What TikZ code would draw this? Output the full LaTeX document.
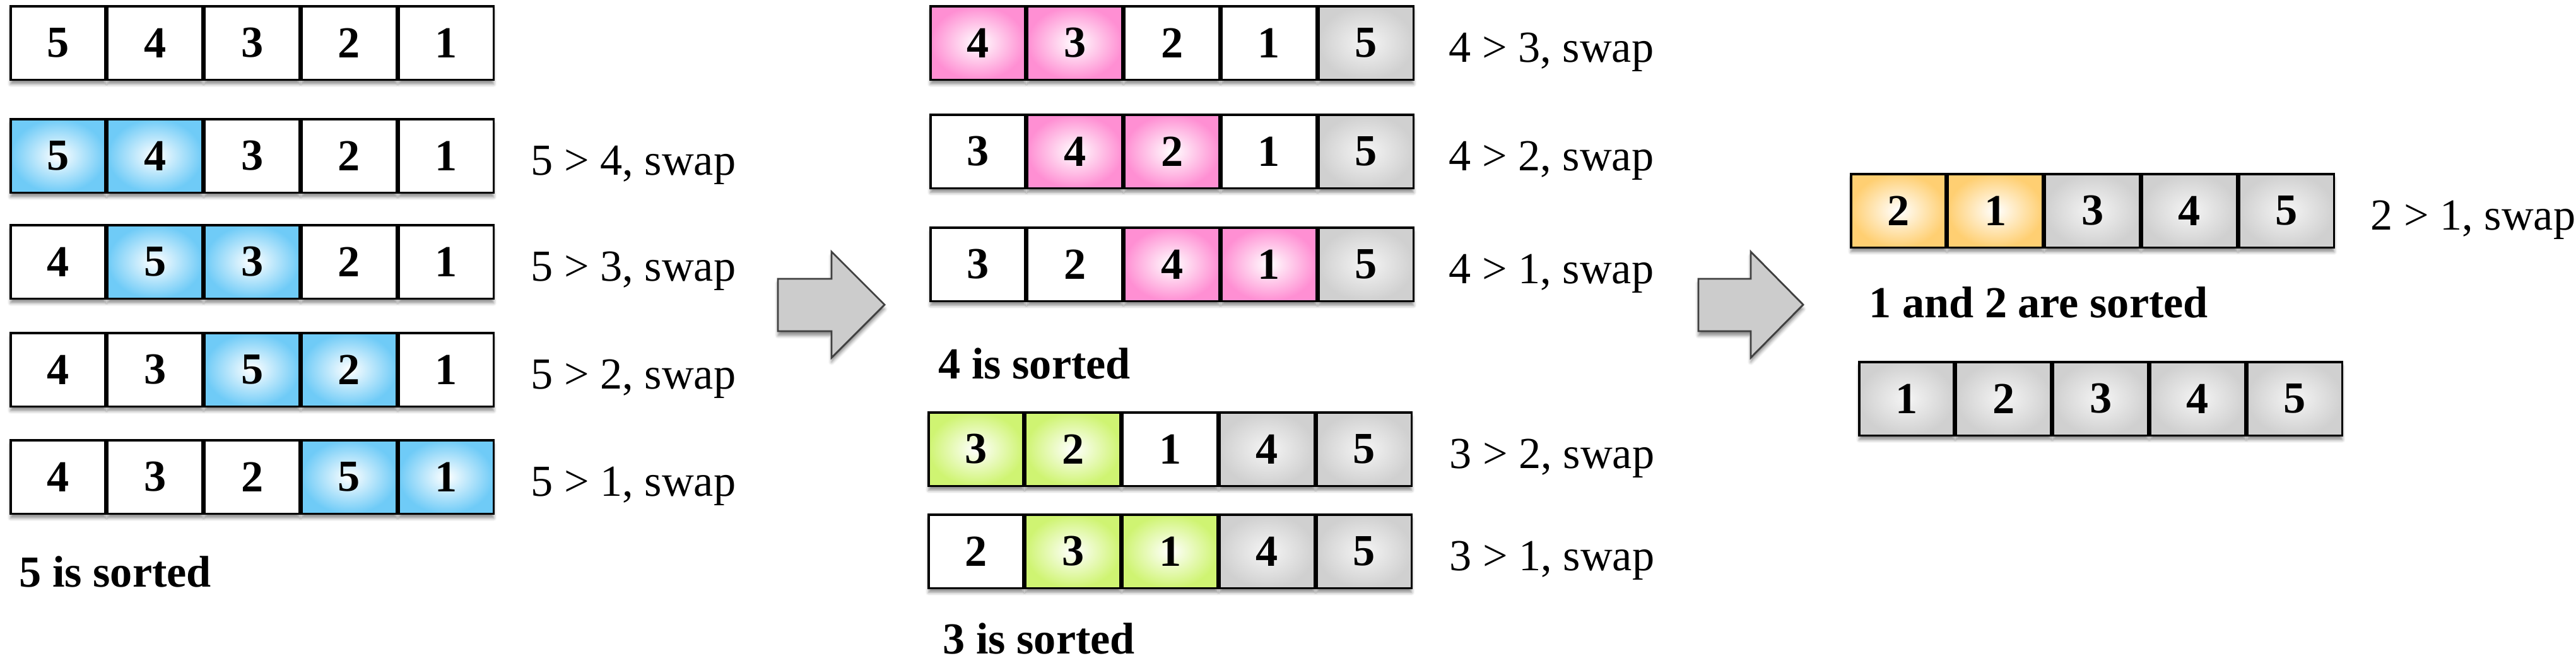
\documentclass[tikz,border=0pt]{standalone}
\usepackage{fontspec}
\setmainfont{Liberation Serif}
\usepackage{tikz}
\usetikzlibrary{positioning,shadows.blur}
\definecolor{swapblue}{HTML}{6FCBF7}
\definecolor{swappink}{HTML}{FF8FD3}
\definecolor{swapgreen}{HTML}{CFF472}
\definecolor{swaporange}{HTML}{FFCF72}
\definecolor{sortgray}{HTML}{D0D0D0}
\definecolor{arrowgray}{HTML}{CCCCCC}

\begin{document}
\begin{tikzpicture}[node distance=0pt,
    every node/.style={font=\fontsize{20pt}{24pt}\selectfont},
    soft/.style={blur shadow={shadow xshift=0pt,shadow yshift=-0.07cm,shadow blur radius=0.05cm,shadow opacity=45}},
    cell/.style={rectangle,draw=black,line width=1pt,fill=white,soft,
      minimum width=1.503cm,minimum height=1.165cm,inner sep=0pt,
      font=\fontsize{20pt}{24pt}\selectfont\bfseries},
    hotblue/.style={cell,inner color=white,outer color=swapblue},
    hotpink/.style={cell,inner color=white,outer color=swappink},
    hotgreen/.style={cell,inner color=white,outer color=swapgreen},
    hotorange/.style={cell,inner color=white,outer color=swaporange},
    sorted/.style={cell,inner color=black!4,outer color=sortgray},
    note/.style={anchor=base west},
    title/.style={anchor=base west,font=\fontsize{20pt}{24pt}\selectfont\bfseries},
    bigarrow/.style={fill=arrowgray,draw=black!75,line width=0.8pt,line join=miter,soft}]
   \useasboundingbox (0,0) rectangle (40.83,-10.58);
   % first pass: 5 moves to the end
   \node (a1) [cell] at (0.92,-0.68) {5};
   \node (a2) [cell,right=of a1] {4};
   \node (a3) [cell,right=of a2] {3};
   \node (a4) [cell,right=of a3] {2};
   \node (a5) [cell,right=of a4] {1};

   \node (b1) [hotblue] at (0.92,-2.47) {5};
   \node (b2) [hotblue,right=of b1] {4};
   \node (b3) [cell,right=of b2] {3};
   \node (b4) [cell,right=of b3] {2};
   \node (b5) [cell,right=of b4] {1};

   \node (c1) [cell] at (0.92,-4.15) {4};
   \node (c2) [hotblue,right=of c1] {5};
   \node (c3) [hotblue,right=of c2] {3};
   \node (c4) [cell,right=of c3] {2};
   \node (c5) [cell,right=of c4] {1};

   \node (d1) [cell] at (0.92,-5.86) {4};
   \node (d2) [cell,right=of d1] {3};
   \node (d3) [hotblue,right=of d2] {5};
   \node (d4) [hotblue,right=of d3] {2};
   \node (d5) [cell,right=of d4] {1};

   \node (e1) [cell] at (0.92,-7.56) {4};
   \node (e2) [cell,right=of e1] {3};
   \node (e3) [cell,right=of e2] {2};
   \node (e4) [hotblue,right=of e3] {5};
   \node (e5) [hotblue,right=of e4] {1};

   \node (tb) [note] at ([xshift=0.45cm,yshift=-0.30cm]b5.east) {5 > 4, swap};
   \node (tc) [note] at ([xshift=0.45cm,yshift=-0.30cm]c5.east) {5 > 3, swap};
   \node (td) [note] at ([xshift=0.45cm,yshift=-0.30cm]d5.east) {5 > 2, swap};
   \node (te) [note] at ([xshift=0.45cm,yshift=-0.30cm]e5.east) {5 > 1, swap};
   \node (s5) [title] at (0.18,-9.30) {5 is sorted};

   % second pass: 4 moves up, then 3
   \node (f1) [hotpink] at (15.50,-0.68) {4};
   \node (f2) [hotpink,right=of f1] {3};
   \node (f3) [cell,right=of f2] {2};
   \node (f4) [cell,right=of f3] {1};
   \node (f5) [sorted,right=of f4] {5};

   \node (g1) [cell] at (15.50,-2.40) {3};
   \node (g2) [hotpink,right=of g1] {4};
   \node (g3) [hotpink,right=of g2] {2};
   \node (g4) [cell,right=of g3] {1};
   \node (g5) [sorted,right=of g4] {5};

   \node (h1) [cell] at (15.50,-4.19) {3};
   \node (h2) [cell,right=of h1] {2};
   \node (h3) [hotpink,right=of h2] {4};
   \node (h4) [hotpink,right=of h3] {1};
   \node (h5) [sorted,right=of h4] {5};

   \node (tf) [note] at ([xshift=0.42cm,yshift=-0.30cm]f5.east) {4 > 3, swap};
   \node (tg) [note] at ([xshift=0.42cm,yshift=-0.30cm]g5.east) {4 > 2, swap};
   \node (th) [note] at ([xshift=0.42cm,yshift=-0.30cm]h5.east) {4 > 1, swap};
   \node (s4) [title] at (14.75,-6.00) {4 is sorted};

   \node (i1) [hotgreen] at (15.47,-7.12) {3};
   \node (i2) [hotgreen,right=of i1] {2};
   \node (i3) [cell,right=of i2] {1};
   \node (i4) [sorted,right=of i3] {4};
   \node (i5) [sorted,right=of i4] {5};

   \node (j1) [cell] at (15.47,-8.74) {2};
   \node (j2) [hotgreen,right=of j1] {3};
   \node (j3) [hotgreen,right=of j2] {1};
   \node (j4) [sorted,right=of j3] {4};
   \node (j5) [sorted,right=of j4] {5};

   \node (ti) [note] at ([xshift=0.46cm,yshift=-0.30cm]i5.east) {3 > 2, swap};
   \node (tj) [note] at ([xshift=0.46cm,yshift=-0.30cm]j5.east) {3 > 1, swap};
   \node (s3) [title] at (14.82,-10.36) {3 is sorted};

   % last pass
   \node (k1) [hotorange] at (30.09,-3.34) {2};
   \node (k2) [hotorange,right=of k1] {1};
   \node (k3) [sorted,right=of k2] {3};
   \node (k4) [sorted,right=of k3] {4};
   \node (k5) [sorted,right=of k4] {5};
   \node (tk) [note] at ([xshift=0.44cm,yshift=-0.30cm]k5.east) {2 > 1, swap};
   \node (s1) [title] at (29.50,-5.03) {1 and 2 are sorted};

   \node (m1) [sorted] at (30.22,-6.32) {1};
   \node (m2) [sorted,right=of m1] {2};
   \node (m3) [sorted,right=of m2] {3};
   \node (m4) [sorted,right=of m3] {4};
   \node (m5) [sorted,right=of m4] {5};

   % block arrows between the passes
   \draw[bigarrow] (12.33,-4.42) -- (13.18,-4.42) -- (13.18,-3.99) -- (14.02,-4.83)
     -- (13.18,-5.67) -- (13.18,-5.25) -- (12.33,-5.25) -- cycle;
   \draw[bigarrow] (26.92,-4.42) -- (27.75,-4.42) -- (27.75,-3.99) -- (28.58,-4.83)
     -- (27.75,-5.67) -- (27.75,-5.25) -- (26.92,-5.25) -- cycle;
\end{tikzpicture}
\end{document}
